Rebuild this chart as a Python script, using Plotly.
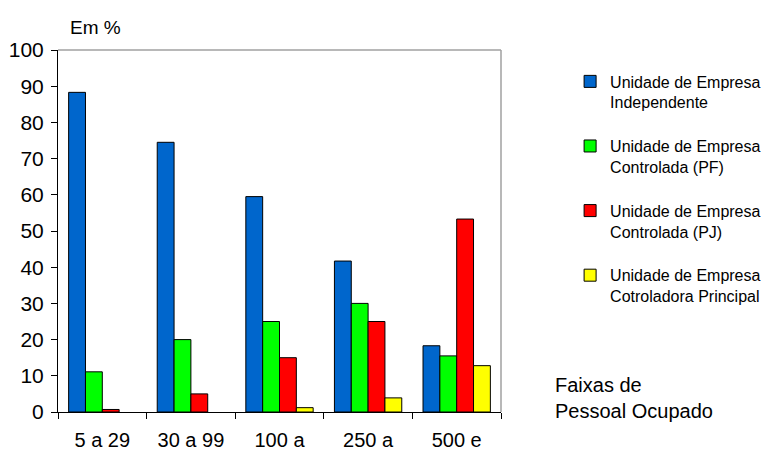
import plotly.graph_objects as go

# faixas de pessoal ocupado
categorias = ["5 a 29", "30 a 99", "100 a", "250 a", "500 e"]

independente = [88.3, 74.5, 59.5, 41.7, 18.3]
controlada_pf = [11.1, 20.0, 25.0, 30.0, 15.5]
controlada_pj = [0.7, 5.0, 15.0, 25.0, 53.3]
controladora = [None, None, 1.2, 3.9, 12.8]  # sem barra nas duas primeiras faixas

series = [
    ("Unidade de Empresa<br>Independente", independente, "#0066CC"),
    ("Unidade de Empresa<br>Controlada (PF)", controlada_pf, "#00FF00"),
    ("Unidade de Empresa<br>Controlada (PJ)", controlada_pj, "#FF0000"),
    ("Unidade de Empresa<br>Cotroladora Principal", controladora, "#FFFF00"),
]

fig = go.Figure()
for i, (nome, valores, cor) in enumerate(series):
    fig.add_trace(go.Bar(x=categorias, y=valores, name=nome, legendgroup=str(i),
                         marker=dict(color=cor, line=dict(color="black", width=1))))

# a página tem 8px de margem no body, compensado nas margens
fig.update_layout(
    width=770, height=452,
    margin=dict(l=50, r=270, t=42, b=48),
    paper_bgcolor="white", plot_bgcolor="white",
    font=dict(family="Liberation Sans, Arial", color="black"),
    barmode="group", bargap=0.24, bargroupgap=0,
    legend=dict(x=1.156, y=0.96, xanchor="left", yanchor="top",
                font=dict(size=16),
                tracegroupgap=20, valign="top"),
    xaxis=dict(showline=True, linecolor="black", linewidth=1, ticks="outside",
               tickson="boundaries", ticklen=6, tickcolor="black",
               tickfont=dict(size=20), showgrid=False, automargin=False,
               ticklabelstandoff=10),
    yaxis=dict(range=[0, 100], dtick=10, showline=True, linecolor="black",
               linewidth=1, ticks="outside", ticklen=6, tickcolor="black",
               tickfont=dict(size=21), showgrid=False, zeroline=False,
               automargin=False, ticklabelstandoff=3),
    shapes=[
        dict(type="line", xref="paper", yref="paper", x0=0, x1=1, y0=1, y1=1,
             line=dict(color="#A0A0A0", width=1.5)),
        dict(type="line", xref="paper", yref="paper", x0=1, x1=1, y0=0, y1=1,
             line=dict(color="#A0A0A0", width=1.5)),
    ],
    annotations=[
        dict(text="Em %", x=(68 - 58) / 450, y=(412 - 27) / 362,
             xref="paper", yref="paper", xanchor="left", yanchor="middle",
             showarrow=False, font=dict(size=19)),
        dict(text="Faixas de<br>Pessoal Ocupado", xref="paper", yref="paper",
             x=1.117, y=0.039, xanchor="left", yanchor="middle", align="left",
             showarrow=False, font=dict(size=20)),
    ],
)

fig.write_html("out.html")
